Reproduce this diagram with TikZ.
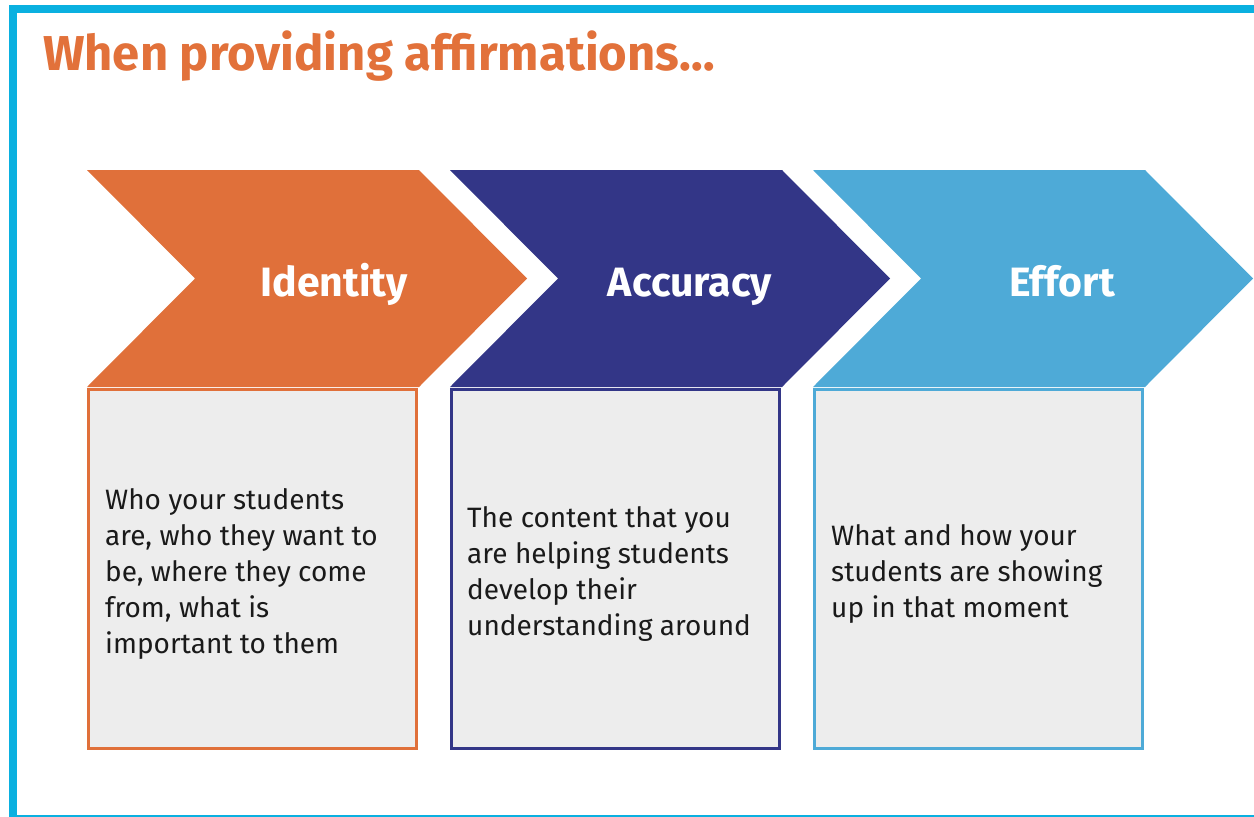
\documentclass[tikz,border=0pt]{standalone}
\usepackage{fontspec}
\setmainfont{Fira Sans}
\definecolor{frameblue}{HTML}{0AB0E0}
\definecolor{titleorange}{HTML}{E2713A}
\definecolor{orangeC}{HTML}{E0703A}
\definecolor{navyC}{HTML}{333687}
\definecolor{skyC}{HTML}{4EAAD7}
\definecolor{boxfill}{HTML}{EDEDED}
\definecolor{bodyink}{HTML}{1A1A1A}
\tikzset{
  chevron/.style={fill=#1, draw=none},
  infobox/.style={draw=#1, fill=boxfill, line width=3pt, minimum width=328pt,
    minimum height=359pt, inner sep=0pt},
  steplabel/.style={anchor=base, inner sep=0pt, text=white,
    font=\bfseries\fontsize{41}{48}\selectfont},
  % multi-line text: the base anchor sits on the last line's baseline
  bodytext/.style={anchor=base west, inner sep=0pt, align=left, text=bodyink,
    font=\fontsize{28}{36}\selectfont},
}
\begin{document}
\begin{tikzpicture}[x=1pt, y=-1pt]
  \useasboundingbox (0,0) rectangle (1254,817);
  \fill[white] (0,0) rectangle (1254,817);

  % frame
  \fill[frameblue] (9,5) rectangle (1254,13);
  \fill[frameblue] (9,5) rectangle (17,817);
  \fill[frameblue] (9,814.5) rectangle (1254,817);

  % title
  \node[anchor=base west, inner sep=0pt, text=titleorange,
        font=\bfseries\fontsize{49}{58}\selectfont] (title) at (43,70)
        {When providing affirmations…};

  % chevrons
  \foreach \x/\c in {87/orangeC, 450/navyC, 813/skyC}{
    \fill[chevron=\c] (\x,170) -- (\x+332,170) -- (\x+440,278.5)
      -- (\x+332,387) -- (\x,387) -- (\x+108,278.5) -- cycle;
  }
  \node[steplabel] (l1) at (334,296) {Identity};
  \node[steplabel] (l2) at (690,296) {Accuracy};
  \node[steplabel] (l3) at (1062,296) {Effort};

  % boxes
  \node[infobox=orangeC] (b1) at (252.5,569) {};
  \node[infobox=navyC]   (b2) at (615.5,569) {};
  \node[infobox=skyC]    (b3) at (978.5,569) {};

  \node[bodytext] (t1) at (105,653)
    {Who your students\\are, who they want to\\be, where they come\\from, what is\\important to them};
  \node[bodytext] (t2) at (467,635)
    {The content that you\\are helping students\\develop their\\understanding around};
  \node[bodytext] (t3) at (831,617)
    {What and how your\\students are showing\\up in that moment};
\end{tikzpicture}
\end{document}
